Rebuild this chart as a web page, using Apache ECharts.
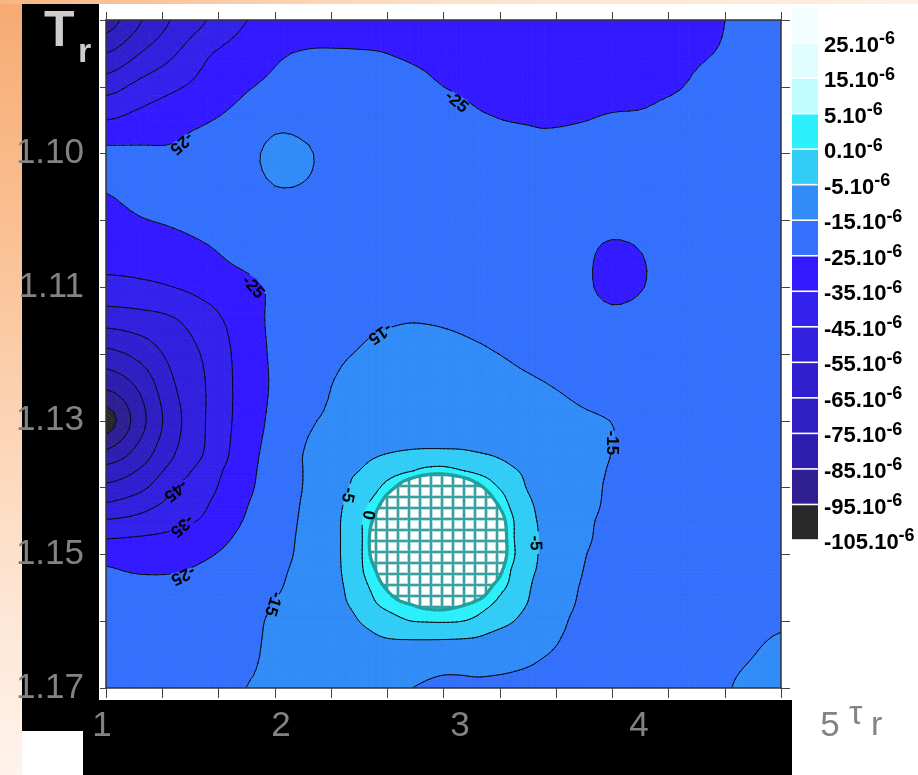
<!DOCTYPE html>
<html>
<head>
<meta charset="utf-8">
<script src="https://cdn.jsdelivr.net/npm/echarts@6/dist/echarts.min.js"></script>
<style>
html,body{margin:0;padding:0;background:#ffffff;}
#c{width:918px;height:775px;}
</style>
</head>
<body>
<div id="c"></div>
<script>
// ---------------- DATA ----------------
// grid node positions in axis units (x: 12 tick intervals, y: 10 tick intervals); denser round the hot spot
const xNodes = [0,0.6,1.2,1.8,2.4,3,3.6,4.2,4.5,4.8,5.1,5.4,5.7,6,6.3,6.6,6.9,7.2,7.5,7.8,8.4,9,9.6,10.2,10.8,11.4,12];
const yNodes = [0,0.5,1,1.5,2,2.5,3,3.5,4,4.5,5,5.5,6,6.5,6.75,7,7.25,7.5,7.75,8,8.25,8.5,8.75,9,9.25,9.5,10];
// field values (units of 1e-6), rows top -> bottom
const field = [
 [-80,-66,-54,-45,-36,-33,-32, -31,-31,-31,-31,-31,-31,-31,-31,-31,-31,-31,-31,-31, -30,-30,-29,-28,-26,-23,-21],
 [-65,-55,-46,-36,-31,-26.5,-24, -24,-24.2,-24.5,-25.3,-26,-26.5,-27,-27.5,-28,-28.5,-29,-29,-29, -29,-28,-28,-27,-25,-22.5,-21],
 [-49,-42,-36.5,-31.5,-26.5,-23,-21, -20.5,-20.7,-21,-22,-23,-24,-25,-25.8,-26.5,-27,-27.5,-27.8,-28, -27.5,-27,-26.5,-25.3,-22,-21,-20],
 [-35,-31.5,-28,-25.5,-22,-17,-17.5, -19,-19.5,-20,-20.2,-20.5,-21,-21.5,-22.7,-24,-24.7,-25.2,-25.6,-26, -25.3,-24.3,-24,-22,-21,-20.5,-20],
 [-23,-23.5,-24,-21,-18,-13.3,-14.5, -18.5,-19,-19.5,-19.8,-20,-20,-20,-20.2,-20.5,-20.8,-21,-21.2,-21.5, -21.5,-21,-21,-20.5,-20,-20,-20],
 [-24.5,-22.5,-22,-20.5,-18.5,-15.1,-15.6, -18.5,-19,-19.5,-19.5,-19.5,-19.5,-19.5,-19.5,-19.5,-19.5,-19.5,-19.8,-20, -20.5,-21,-21,-20.5,-20,-20,-20],
 [-28,-25.5,-24,-22,-20.5,-19,-19, -19,-19.2,-19.5,-19.5,-19.5,-19.5,-19.5,-19.5,-19.5,-19.6,-19.8,-19.9,-20, -21,-21.8,-21.5,-20.5,-20,-20,-20],
 [-32,-31,-29.3,-26.4,-22.5,-20.5,-19.5, -19,-19,-19,-19,-19,-19,-19,-19.2,-19.5,-19.5,-19.5,-19.7,-20, -22.2,-27.2,-24.6,-21,-20,-20,-20],
 [-37.8,-37,-35,-31.7,-28,-23.5,-19.5, -19,-18.8,-18.5,-18.5,-18.5,-18.5,-18.5,-18.7,-19,-19.2,-19.5,-19.7,-20, -22.3,-27.6,-24.8,-21,-20,-20,-20],
 [-51.5,-49.5,-46,-38.8,-30.8,-23,-19.5, -17.5,-16.8,-16,-15.5,-15.2,-15.3,-15.6,-16.1,-16.8,-17.4,-18,-18.5,-19, -20.5,-22.3,-21.5,-20.5,-20,-20,-20],
 [-68,-62,-51.7,-43.1,-31.9,-23.5,-20, -15.8,-14.6,-13.5,-13,-12.8,-12.8,-13,-13.4,-14,-14.8,-15.5,-16.2,-17, -18.5,-19.5,-20.5,-20.5,-20,-20,-20],
 [-84,-73.5,-56,-44.5,-32.2,-23.7,-18.5, -13.5,-12.7,-12,-11.7,-11.5,-11.2,-11,-11.4,-12,-12.7,-13.5,-14,-14.6, -16.3,-18,-19.5,-20,-20,-20,-20],
 [-100,-79,-59,-44.3,-32,-22.6,-16, -13,-11.6,-10.2,-9.4,-8.7,-8.4,-8.3,-8.5,-9,-9.7,-10.5,-11.2,-12, -14,-15.1,-17.5,-19,-20,-20,-20],
 [-82,-70.5,-55.5,-43.5,-30.5,-21,-14, -9.8,-7.3,-5.5,-4.7,-4.3,-4,-4,-4.2,-4.7,-5.3,-6.4,-7.8,-9.8, -13,-15.1,-17.5,-19,-20,-20,-20],
 [-71,-64,-51,-40,-29.3,-20.6,-13.9, -6.5,-5,-2.8,-2,-0.5,2,2.5,0.5,-1.3,-2.6,-4.3,-6,-8.5, -12.5,-15.5,-17.7,-19.2,-20,-20,-20],
 [-63,-57.5,-45.5,-37.7,-28.3,-20.3,-13.8, -6.2,-3.6,-1.1,4.2,11.9,17.2,18,14.8,7.6,1.1,-2.4,-5.3,-7.5, -12,-16,-18,-19.5,-20,-20,-20],
 [-54,-49,-42,-35.4,-26.7,-19.5,-13.3, -5.2,-2.1,2.7,13.3,22.2,26.6,27,24.6,18.4,6.9,-0.9,-4.1,-6.8, -12.2,-16.2,-18.2,-19.5,-20,-20,-20],
 [-44,-42,-37.5,-33.4,-25.3,-18.7,-13, -4.6,-1.3,7.3,20.6,27.8,30.4,30.8,29.5,24.6,14,1.2,-3.4,-6.3, -13,-16.5,-18.5,-19.5,-20,-20,-20],
 [-35.5,-34.4,-33,-29.9,-23.2,-18.1,-12.7, -4.6,-1.8,10.2,23.1,29.6,31.4,31.7,30.8,27,17.4,1.5,-3,-6.1, -13.2,-16.8,-18.8,-19.5,-20,-20,-19.8],
 [-28,-30.3,-30,-26,-21.5,-17.5,-12.5, -4.6,-1.5,9.3,22.4,29.1,31.2,31.4,30.4,26.6,16.3,1.9,-3.3,-6.1, -13.9,-17,-19,-19.5,-20,-20,-19.5],
 [-24,-25.8,-25.5,-23,-21,-16.7,-12, -4.8,-1.2,5,18,26,29.1,29.6,27.8,22.2,10.7,-0.2,-3.9,-6.4, -14.4,-17.5,-19.2,-19.7,-20,-19.8,-19],
 [-21.5,-22,-22.5,-21.5,-20.5,-16,-11.5, -5.3,-2.1,1.8,8.5,17.9,22.4,23,20.7,13.2,3.4,-1.2,-4.4,-7.8, -15,-18,-19.5,-20,-20,-19.5,-18],
 [-21.2,-21.5,-21.5,-20.7,-19.5,-14.7,-11, -5.8,-3.5,-0.3,2.3,4.8,7.5,8,6,2.8,-0.4,-2.8,-5.2,-8.8, -15.6,-18.2,-19.5,-19.7,-19.6,-18.5,-17],
 [-21,-21,-20.5,-20,-18.5,-13.5,-10.5, -7.2,-5,-3.4,-1.6,-0.1,0.3,0.4,0.1,-1.1,-2.8,-4.6,-7.2,-10.8, -16.5,-18.5,-19.5,-19.5,-19,-17,-15.8],
 [-20.7,-20.7,-20.2,-19.7,-18,-13.2,-10.5, -8.3,-6.6,-5.4,-4.8,-4.6,-4.5,-4.5,-4.7,-5.2,-6.6,-8.2,-10.3,-13, -16.8,-18.7,-19.5,-19.5,-18.3,-16.3,-14.6],
 [-20.5,-20.5,-20,-19.5,-17.5,-13,-10.5, -9,-8.1,-7,-7.4,-8,-8.8,-9.5,-9.5,-9.3,-10.1,-11.3,-13,-14.8, -17,-19,-19.5,-19.5,-17.5,-15.5,-13.5],
 [-20,-20,-19.5,-18,-15.3,-13.3,-11.5, -10.5,-10.4,-10.5,-12.3,-14.7,-16.2,-17.5,-17.5,-17,-17.2,-17.5,-17.8,-18, -18.5,-19.5,-19.5,-19,-16.5,-13.8,-12]
];
// contour levels (also the colour-bar boundaries), bottom -> top
const levels = [-105,-95,-85,-75,-65,-55,-45,-35,-25,-15,-5,0,5,15,25];
// band colours, band k = [levels[k], levels[k+1])
const bandColors = ['#282828','#2f1f92','#2e1eb0','#2f1ec1','#301fcf','#3120dd','#3222eb','#3319ff',
                    '#3370fb','#318cf8','#31cdf7','#2cf0fb','#c0fbfd','#e0fdff','#f2feff'];
const hatchFrom = 5;              // values >= this are drawn hatched
const yTickLabels = ['1.10','1.11','1.13','1.15','1.17'];
const xTickLabels = ['1','2','3','4','5'];
// contour labels: [x, y (axis units), level, rotation deg]
const contourLabels = [
 [1.34,1.84,-25,220],[6.23,1.23,-25,-40],[2.61,4.0,-25,-48],[4.87,4.69,-15,214],
 [8.99,6.33,-15,-90],[1.24,7.04,-45,219],[1.35,7.57,-35,220],[1.37,8.31,-25,205],
 [2.97,8.74,-15,-108],[4.30,7.11,-5,-100],[4.66,7.41,0,-100],[7.63,7.83,-5,-88]
];

// ---------------- rendering helpers ----------------
const FONT = "'Liberation Sans', Arial, sans-serif";
const GRAY = '#838383';
const NR = yNodes.length, NC = xNodes.length, SUB = 4;
// cubic Hermite with finite-difference tangents on a non-uniform grid (smooth surface through the nodes)
function interp1D(pos, vals, k, t) {
  const n = pos.length;
  const tan = i => {
    if (i <= 0) return 0.5 * (vals[1] - vals[0]) / (pos[1] - pos[0]);
    if (i >= n - 1) return 0.5 * (vals[n - 1] - vals[n - 2]) / (pos[n - 1] - pos[n - 2]);
    return (vals[i + 1] - vals[i - 1]) / (pos[i + 1] - pos[i - 1]);
  };
  const h = pos[k + 1] - pos[k], m0 = tan(k), m1 = tan(k + 1);
  const t2 = t * t, t3 = t2 * t;
  return (2 * t3 - 3 * t2 + 1) * vals[k] + (t3 - 2 * t2 + t) * h * m0 + (-2 * t3 + 3 * t2) * vals[k + 1] + (t3 - t2) * h * m1;
}
function split(f, n) { let k = Math.floor(f / SUB); if (k > n - 2) k = n - 2; return [k, f / SUB - k]; }
const FR = (NR - 1) * SUB + 1, FC = (NC - 1) * SUB + 1;
const XF = [], YF = [], FV = [];
for (let fj = 0; fj < FC; fj++) { const [j0, t] = split(fj, NC); XF.push(xNodes[j0] + t * (xNodes[j0 + 1] - xNodes[j0])); }
for (let fi = 0; fi < FR; fi++) { const [i0, t] = split(fi, NR); YF.push(yNodes[i0] + t * (yNodes[i0 + 1] - yNodes[i0])); }
const RX = field.map(row => { const out = []; for (let fj = 0; fj < FC; fj++) { const [j0, t] = split(fj, NC); out.push(interp1D(xNodes, row, j0, t)); } return out; });
for (let fi = 0; fi < FR; fi++) FV.push(new Array(FC));
for (let fj = 0; fj < FC; fj++) {
  const col = RX.map(r => r[fj]);
  for (let fi = 0; fi < FR; fi++) { const [i0, t] = split(fi, NR); FV[fi][fj] = interp1D(yNodes, col, i0, t); }
}
const CW = FC - 1;
const cells = [];
for (let fi = 0; fi < FR - 1; fi++) for (let fj = 0; fj < FC - 1; fj++) cells.push([XF[fj], YF[fi]]);

function bandOf(v) { let b = 0; for (let k = 1; k < levels.length; k++) if (v >= levels[k]) b = k; return b; }
function makeHatch() {
  const c = document.createElement('canvas'); c.width = 11; c.height = 11;
  const g = c.getContext('2d');
  g.fillStyle = '#ffffff'; g.fillRect(0, 0, 11, 11);
  g.fillStyle = '#b4dede'; g.fillRect(0, 0, 4, 11); g.fillRect(0, 0, 11, 4);
  g.fillStyle = '#3a9f9f'; g.fillRect(1, 0, 2, 11); g.fillRect(0, 1, 11, 2);
  return c;
}
const hatchFill = { image: makeHatch(), repeat: 'repeat' };
function bandFill(b) { return levels[b] >= hatchFrom ? hatchFill : bandColors[b]; }
function corners(api, idx) {
  const fj = idx % CW, fi = (idx - fj) / CW;
  return [[fj, fi], [fj + 1, fi], [fj + 1, fi + 1], [fj, fi + 1]].map(([a, b]) => {
    const c = api.coord([XF[a], YF[b]]); return [c[0], c[1], FV[b][a]];
  });
}
function clipPoly(pts, L, above) {
  const out = [];
  for (let k = 0; k < pts.length; k++) {
    const a = pts[k], b = pts[(k + 1) % pts.length];
    const ia = above ? a[2] >= L : a[2] <= L, ib = above ? b[2] >= L : b[2] <= L;
    if (ia) out.push(a);
    if (ia !== ib) { const t = (L - a[2]) / (b[2] - a[2]); out.push([a[0] + t * (b[0] - a[0]), a[1] + t * (b[1] - a[1]), L]); }
  }
  return out;
}
function poly(pts, b) {
  const f = bandFill(b);
  return { type: 'polygon', shape: { points: pts.map(p => [p[0], p[1]]) }, style: { fill: f, stroke: f, lineWidth: 0.8 } };
}
function renderFill(params, api) {
  const P = corners(api, params.dataIndex);
  const bs = P.map(p => bandOf(p[2]));
  const children = [];
  if (bs[0] === bs[1] && bs[1] === bs[2] && bs[2] === bs[3]) {
    children.push(poly(P, bs[0]));
  } else {
    for (const tri of [[P[0], P[1], P[2]], [P[0], P[2], P[3]]]) {
      const tb = tri.map(p => bandOf(p[2]));
      const bmin = Math.min(...tb), bmax = Math.max(...tb);
      for (let b = bmin; b <= bmax; b++) {
        let pg = tri;
        if (b > 0) pg = clipPoly(pg, levels[b], true);
        if (pg.length >= 3 && b < levels.length - 1) pg = clipPoly(pg, levels[b + 1], false);
        if (pg.length >= 3) children.push(poly(pg, b));
      }
    }
  }
  return { type: 'group', children };
}
const lineLevels = levels.filter(L => L <= hatchFrom);
let labelPx = null;
function renderLines(params, api) {
  if (!labelPx) labelPx = contourLabels.map(l => api.coord([l[0], l[1]]));
  const P = corners(api, params.dataIndex);
  let dk = '', dt = '';
  for (const tri of [[P[0], P[1], P[2]], [P[0], P[2], P[3]]]) {
    const vs = tri.map(p => p[2]);
    const vmin = Math.min(...vs), vmax = Math.max(...vs);
    for (const L of lineLevels) {
      if (L <= vmin || L >= vmax) continue;
      const pts = [];
      for (let k = 0; k < 3; k++) {
        const a = tri[k], b = tri[(k + 1) % 3];
        if ((a[2] < L) !== (b[2] < L)) { const t = (L - a[2]) / (b[2] - a[2]); pts.push([a[0] + t * (b[0] - a[0]), a[1] + t * (b[1] - a[1])]); }
      }
      if (pts.length < 2) continue;
      const mx = (pts[0][0] + pts[1][0]) / 2, my = (pts[0][1] + pts[1][1]) / 2;
      if (L < hatchFrom && labelPx.some(q => Math.hypot(q[0] - mx, q[1] - my) < 12)) continue;
      const s = 'M' + pts[0][0].toFixed(2) + ' ' + pts[0][1].toFixed(2) + 'L' + pts[1][0].toFixed(2) + ' ' + pts[1][1].toFixed(2);
      if (L >= hatchFrom) dt += s; else dk += s;
    }
  }
  const ch = [];
  if (dk) ch.push({ type: 'path', shape: { pathData: dk }, style: { fill: null, stroke: '#0a0a14', lineWidth: 1, lineCap: 'round' } });
  if (dt) ch.push({ type: 'path', shape: { pathData: dt }, style: { fill: null, stroke: '#22a0a0', lineWidth: 3.2, lineCap: 'round' } });
  return { type: 'group', children: ch };
}
function renderLabel(params, api) {
  const l = contourLabels[params.dataIndex];
  const c = api.coord([l[0], l[1]]);
  return { type: 'text', x: c[0], y: c[1], rotation: l[3] * Math.PI / 180,
    style: { text: String(l[2]), fill: '#000', fontSize: 17, fontWeight: 'bold', fontFamily: FONT, align: 'center', verticalAlign: 'middle' } };
}
function renderBar(params, api) {
  const k = params.dataIndex;
  const a = api.coord([0, k]), b = api.coord([1, k + 1]);
  return { type: 'rect', shape: { x: a[0], y: b[1] + 0.8, width: b[0] - a[0], height: a[1] - b[1] - 1.6 }, style: { fill: bandColors[k] } };
}

// ---------------- option ----------------
const axisDark = { color: '#333', width: 1.5 };
const mainX = (pos, len) => ({ gridIndex: 0, type: 'value', min: 0, max: 12, interval: 1, position: pos, z: 10,
  axisLine: { show: true, onZero: false, lineStyle: axisDark }, axisTick: { show: true, inside: false, length: len, lineStyle: { color: '#444', width: 1 } },
  axisLabel: { show: false }, splitLine: { show: false } });
const mainY = (pos, len, label) => ({ gridIndex: 0, type: 'value', min: 0, max: 10, interval: 1, inverse: true, position: pos, z: 10,
  axisLine: { show: true, onZero: false, lineStyle: axisDark }, axisTick: { show: true, inside: false, length: len, lineStyle: { color: '#444', width: 1 } },
  axisLabel: label, splitLine: { show: false } });

const option = {
  backgroundColor: '#ffffff',
  animation: false,
  title: [
    { text: 'T', left: 44, top: 7, padding: 0, textStyle: { fontSize: 50, fontWeight: 'bold', fontFamily: FONT, color: '#cdcdcd', textShadowColor: '#6a6a6a', textShadowOffsetX: 2, textShadowOffsetY: 2, textShadowBlur: 0 } },
    { text: 'r', left: 78, top: 36, padding: 0, textStyle: { fontSize: 34, fontWeight: 'bold', fontFamily: FONT, color: '#cdcdcd', textShadowColor: '#6a6a6a', textShadowOffsetX: 1, textShadowOffsetY: 1, textShadowBlur: 0 } },
    { text: 'τ', left: 849, top: 698, padding: 0, textStyle: { fontSize: 34, fontWeight: 'normal', fontFamily: FONT, color: GRAY } },
    { text: 'r', left: 871, top: 709, padding: 0, textStyle: { fontSize: 34, fontWeight: 'normal', fontFamily: FONT, color: GRAY } }
  ],
  graphic: { elements: [
    { type: 'rect', z: -10, shape: { x: 0, y: 0, width: 22, height: 775 },
      style: { fill: new echarts.graphic.LinearGradient(0, 0, 0, 1, [{ offset: 0, color: '#f7aa72' }, { offset: 0.4, color: '#fbc8a0' }, { offset: 0.75, color: '#fde4d1' }, { offset: 1, color: '#fff3eb' }]) } },
    { type: 'rect', z: -10, shape: { x: 0, y: 0, width: 918, height: 4 },
      style: { fill: new echarts.graphic.LinearGradient(0, 0, 1, 0, [{ offset: 0, color: '#f8b684' }, { offset: 0.5, color: '#fde2cb' }, { offset: 1, color: '#fef0e4' }]) } },
    { type: 'rect', z: -9, shape: { x: 22, y: 4, width: 77, height: 727 }, style: { fill: '#000000' } },
    { type: 'rect', z: -9, shape: { x: 83, y: 700, width: 709, height: 75 }, style: { fill: '#000000' } }
  ] },
  grid: [
    { left: 106, top: 20, width: 675, height: 668 },
    { left: 102, top: 700, width: 716, height: 1 },
    { left: 792, top: 7, width: 26, height: 533 }
  ],
  xAxis: [
    mainX('bottom', 10),
    mainX('top', 8),
    { gridIndex: 1, type: 'value', min: 1, max: 5, interval: 1, z: 10, axisLine: { show: false, onZero: false }, axisTick: { show: false }, splitLine: { show: false },
      axisLabel: { margin: 8, fontSize: 35, fontFamily: FONT, color: GRAY,
        formatter: v => v === 5 ? '{f|' + xTickLabels[4] + '}' : (xTickLabels[v - 1] || ''),
        rich: { f: { fontSize: 35, fontFamily: FONT, color: GRAY, padding: [0, 0, 0, 24] } } } },
    { gridIndex: 2, type: 'value', min: 0, max: 1, show: false }
  ],
  yAxis: [
    mainY('left', 6, { show: true, margin: 22, fontSize: 35, fontFamily: FONT, color: GRAY,
      formatter: v => (v >= 2 && v % 2 === 0) ? yTickLabels[v / 2 - 1] : '' }),
    mainY('right', 9, { show: false }),
    { gridIndex: 1, type: 'value', min: 0, max: 1, show: false },
    { gridIndex: 2, type: 'value', min: 0, max: 15, interval: 1, position: 'right', z: 10,
      axisLine: { show: false, onZero: false }, axisTick: { show: false }, splitLine: { show: false },
      axisLabel: { margin: 6, color: '#000',
        formatter: v => v < levels.length ? '{m|' + levels[v] + '.10}{s|-6}' : '',
        rich: { m: { fontSize: 22, fontWeight: 'bold', fontFamily: FONT, color: '#000', lineHeight: 22, padding: [6, 0, 0, 0] },
                s: { fontSize: 18, fontWeight: 'bold', fontFamily: FONT, color: '#000', lineHeight: 18, padding: [0, 0, 7, 0] } } } }
  ],
  series: [
    { type: 'custom', name: 'fill', xAxisIndex: 0, yAxisIndex: 0, data: cells, encode: { x: 0, y: 1 }, renderItem: renderFill, silent: true, clip: true, progressive: 0, z: 1 },
    { type: 'custom', name: 'lines', xAxisIndex: 0, yAxisIndex: 0, data: cells, encode: { x: 0, y: 1 }, renderItem: renderLines, silent: true, clip: true, progressive: 0, z: 2 },
    { type: 'custom', name: 'labels', xAxisIndex: 0, yAxisIndex: 0, data: contourLabels.map(l => [l[0], l[1]]), encode: { x: 0, y: 1 }, renderItem: renderLabel, silent: true, z: 3 },
    { type: 'custom', name: 'colorbar', xAxisIndex: 3, yAxisIndex: 3, data: bandColors.map((c, k) => [0.5, k + 0.5]), encode: { x: 0, y: 1 }, renderItem: renderBar, silent: true, z: 2 }
  ]
};
const chart = echarts.init(document.getElementById('c'), null, { renderer: 'canvas', width: 918, height: 775 });
chart.setOption(option);
</script>
</body>
</html>
